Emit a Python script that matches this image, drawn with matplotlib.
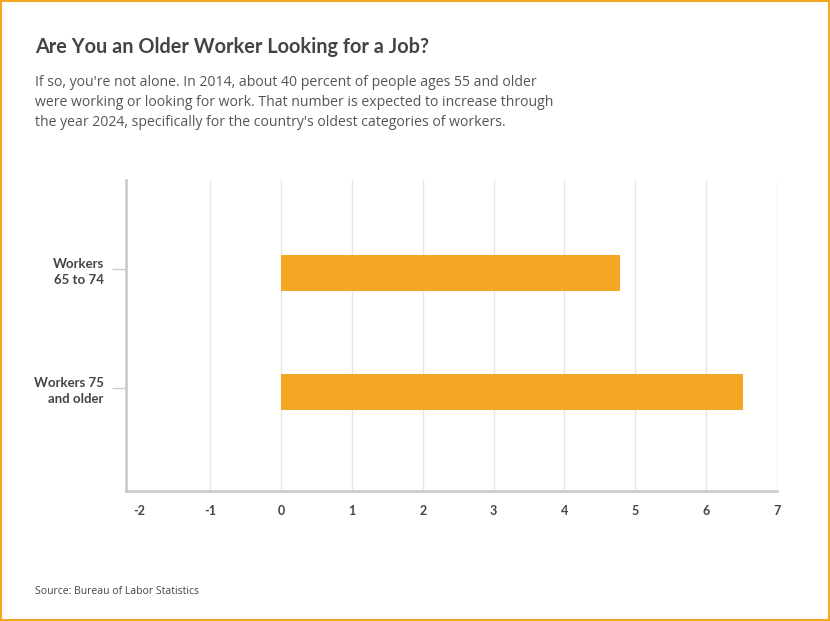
import matplotlib.pyplot as plt
from matplotlib.patches import Rectangle

categorias = ["Workers\n65 to 74", "Workers 75\nand older"]
valores = [4.78, 6.52]
ticks_x = [-2, -1, 0, 1, 2, 3, 4, 5, 6, 7]

laranja = "#F5A623"
cinza_texto = "#444444"

fig = plt.figure(figsize=(8.3, 6.21), dpi=100)
ax = fig.add_axes([126 / 830, 1 - 491 / 621, 651 / 830, 311 / 621])

pos = list(range(len(categorias)))
# barras levemente abaixo do tick, como no original
ax.barh([p + 0.034 for p in pos], valores, height=0.30, color=laranja, zorder=3)

ax.set_xlim(-2.19, 7)
ax.set_ylim(1.866, -0.748)
ax.set_xticks(ticks_x)
ax.set_xticklabels([str(t) for t in ticks_x], fontfamily="Lato", fontweight="bold",
                   fontsize=9, color=cinza_texto)
ax.set_yticks(pos)
ax.set_yticklabels(categorias, fontfamily="Lato", fontweight="bold",
                   fontsize=9.5, color=cinza_texto, linespacing=1.45)
ax.tick_params(axis="x", length=0, pad=10)
ax.tick_params(axis="y", length=10, width=1, color="#cccccc", pad=6)

# grade vertical, sem a linha do -2
for t in ticks_x[1:]:
    ax.axvline(t, color="#e6e6e6", lw=1, zorder=1)

for lado in ["top", "right"]:
    ax.spines[lado].set_visible(False)
for lado in ["left", "bottom"]:
    ax.spines[lado].set_color("#cccccc")
    ax.spines[lado].set_linewidth(2)

fig.text(35 / 830, 1 - 47 / 621, "Are You an Older Worker Looking for a Job?",
         fontfamily="Lato", fontweight="bold", fontsize=14.3, color=cinza_texto, va="center")
subtitulo = ("If so, you're not alone. In 2014, about 40 percent of people ages 55 and older\n"
             "were working or looking for work. That number is expected to increase through\n"
             "the year 2024, specifically for the country's oldest categories of workers.")
fig.text(35 / 830, 1 - 102.5 / 621, subtitulo, fontfamily="Open Sans", fontsize=10.1,
         color="#555555", va="center", linespacing=1.46)
fig.text(35 / 830, 1 - 591 / 621, "Source: Bureau of Labor Statistics",
         fontfamily="Open Sans", fontsize=7.5, color="#444444", va="center")

# moldura laranja
fig.patches.append(Rectangle((0.001, 0.001), 0.998, 0.997, transform=fig.transFigure,
                             fill=False, edgecolor=laranja, lw=1.5))

fig.savefig("out.png", dpi=100)
